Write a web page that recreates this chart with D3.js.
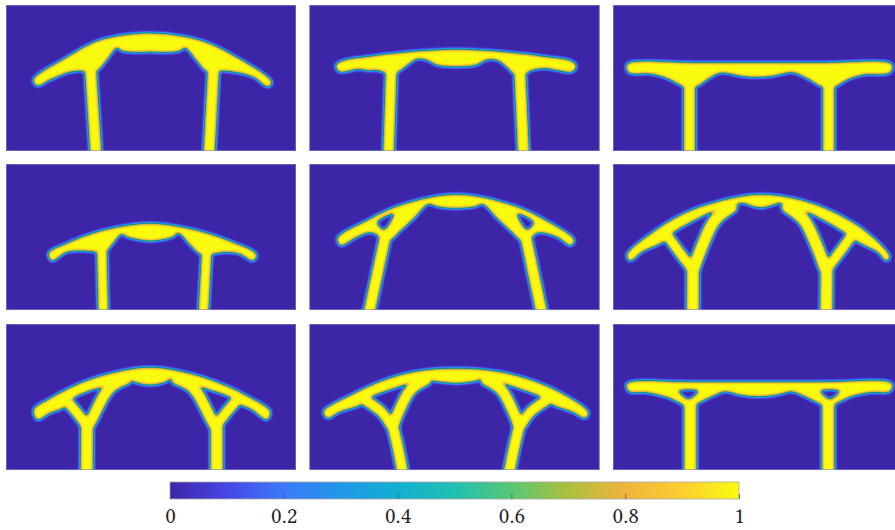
<!DOCTYPE html>
<html>
<head>
<meta charset="utf-8">
<script src="https://cdn.jsdelivr.net/npm/d3@7"></script>
<style>
  body { margin: 0; background: #fff; }
  svg { display: block; }
</style>
</head>
<body>
<div id="chart"></div>
<script>
// design domain of every panel, in mesh elements
const NX = 290, NY = 146;

// parula colour map, evenly spaced stops 0 .. 1
const cmapColors = ["#3E26A8", "#4746E4", "#3D7AFB", "#2296E8", "#12B0D2", "#20BFB2",
                    "#58C874", "#ACBF3E", "#F0B43E", "#FCCE30", "#F9FB0E"];
const tickValues = [0, 0.2, 0.4, 0.6, 0.8, 1];
const tickLabels = ["0", "0.2", "0.4", "0.6", "0.8", "1"];

// each design: deck upper edge, deck lower edge (left to right), members (centre line + width), holes
const top1 = [[27,75],[61,52],[94,35],[144,28],[194,35],[227,50],[266,77]];
const bottom1 = [[31,81],[44,75],[61,68],[72,66],[84,67],[91,66],[101,55],[111,43],[116,46],[130,47.5],[144,47],
                 [158,47.5],[174,46],[179,43],[190,55],[200,66],[208,67],[214,66],[227,67],[247,72],[262,82]];
const members1 = [{pts: [[84,55],[90,150]], w: 12}, {pts: [[208,55],[203,150]], w: 12}];

const top2 = [[26,61],[32,56],[58,51.5],[91,47.5],[147,44.3],[203,47.5],[236,51.5],[262,56],[267,61]];
const bottom2 = [[30,67],[41,65.7],[49,64.3],[58,65.7],[69,65.7],[76,68],[82,70],[89,67],[101,58],[107,54.3],[117,55],
                 [127,60],[147,61.7],[167,60],[177,55],[188,55.5],[198,63],[204,69],[210,71],[216,69],[222,65.5],
                 [236,63.5],[248,65.5],[263,67]];
const members2 = [{pts: [[82,58],[79,150]], w: 11.5}, {pts: [[210,58],[214,150]], w: 12}];

const top3 = [[13,61],[17,57.5],[80,57.5],[146,57.5],[212,57.5],[276,57.5],[280,61]];
const bottom3 = [[16,68],[37,69],[54,73.5],[67,80],[76,84],[85,81],[94,75],[107,68.3],[127,71],[144,72.3],[161,71],
                 [180,67.7],[194,73.5],[207,81],[216,84],[224,81],[234,75],[250,70],[277,68]];
const members3 = [{pts: [[76.5,70],[76.5,150]], w: 12}, {pts: [[215.7,70],[215.7,150]], w: 12}];

const top4 = [[42.3,89.3],[60.7,79.3],[94,67],[144,59.3],[194,67],[227.3,78.3],[250.7,90.3]];
const bottom4 = [[45.7,97],[60.7,88.3],[74,87],[87.3,87.7],[96,89],[102,86],[107.3,79.3],[115.7,70.3],[121,73],
                 [144,77],[167,73],[172.3,69.3],[184,81],[194,90],[201,91],[207.3,90],[220.7,88.3],[234,90.3],[247.3,97]];
const members4 = [{pts: [[95.7,78],[97.3,150]], w: 10.5}, {pts: [[201.3,78],[197.3,150]], w: 10.5}];

const top5 = [[27.7,74.3],[58,56],[91,41],[147,30.3],[203,41],[236,56],[265,76]];
const bottom5 = [[31,81.7],[45,74.5],[58,69],[66,70],[72,76],[80,77],[90,68],[105,54],[119,40.3],[128,42.7],
                 [147,44.3],[166,42.7],[173,40.3],[187,54],[202,68],[212,77],[220,76],[226,70],[234,69],[249,74],
                 [261,81.7]];
const members5 = [{pts: [[59.3,150],[75,76]], w: 12}, {pts: [[232.5,150],[217,76]], w: 12}];
const holes5 = [[[68,58.5],[84,50],[74.5,65.5]], [[224,58.5],[208,50],[217.5,65.5]]];

const top6 = [[13.7,91],[37,70],[70.3,49.5],[103.7,37.7],[147,30.3],[187,35.5],[220.3,47.7],[253.7,67.7],[277,92.7]];
const bottom6 = [[17,97],[30,87.5],[45,81],[55,75],[61,68.3],[75,60],[93.7,50.3],[110,44],[123.7,40.3],[130.3,39.3],
                 [140.3,42.7],[150.3,43.7],[160.3,41],[167,39.3],[183,44],[198.7,50.3],[217,60],[232,69.3],[240,75],
                 [250,81],[263.7,87.7],[273.7,97]];
const members6 = [
  {pts: [[79.7,150],[80,104]], w: 13},
  {pts: [[80,106],[70,93],[56,74]], w: 11},
  {pts: [[81,104],[90,80],[102,56],[118,43]], w: 13},
  {pts: [[213.3,150],[213.7,104]], w: 13},
  {pts: [[213,106],[223,93],[237,74]], w: 11},
  {pts: [[212,104],[203,80],[191,56],[175,43]], w: 13}
];

const top7 = [[27.3,86],[44,74.3],[77.3,57.7],[110.7,47.7],[144,43.3],[177.3,47.7],[210.7,57.7],[244,73.3],[264.7,87.7]];
const bottom7 = [[31.3,96],[44,89.3],[57.3,84],[63,78],[70,72.7],[82,67.5],[95.7,63.3],[110,57],[122.3,54.3],
                 [127.3,57.7],[144,61],[160.7,57.7],[165.7,54.3],[181,57],[195.7,63.3],[210,68],[224,73.3],[231,79],
                 [246,86],[260.7,96]];
const members7 = [
  {pts: [[80.7,150],[81,101]], w: 13},
  {pts: [[81,102],[72,90],[60,76]], w: 11},
  {pts: [[82,102],[86,95],[99,70],[106,62],[120,55]], w: 12},
  {pts: [[210.7,150],[210.7,101]], w: 13},
  {pts: [[210,102],[219,90],[231,76]], w: 11},
  {pts: [[209,102],[205,95],[192,70],[185,62],[171,55]], w: 12}
];

const top8 = [[13.7,87.7],[41,71],[74.3,56],[107.7,47],[147.7,44.3],[191,47.7],[224.3,56.7],[257.7,72],[279.3,88.7]];
const bottom8 = [[17.7,94.3],[31,87.7],[49.3,82],[57,77],[63.7,72],[80,66],[97.7,60],[108,56],[116,54.3],[122.7,56.7],
                 [147.7,59.3],[167.7,56.7],[172.7,54.3],[182,56],[196,60],[213,66],[229.3,72],[237,77],[245,82],
                 [262,87.7],[276,94.3]];
const members8 = [
  {pts: [[93.5,150],[88,122],[83,101]], w: 12},
  {pts: [[82,102],[72,88],[57,77]], w: 11},
  {pts: [[84,101],[90,86],[101,66],[116,56]], w: 12},
  {pts: [[199.3,150],[205,122],[210,101]], w: 12},
  {pts: [[211,102],[221,88],[236,77]], w: 11},
  {pts: [[209,101],[203,86],[192,66],[177,56]], w: 12}
];

const top9 = [[13,61],[17,57.7],[80,57.7],[146,57.7],[212,57.7],[276,57.7],[280,61]];
const bottom9 = [[16,67.7],[33.7,68.7],[53.7,73.3],[67,79.3],[76,84],[85.3,79.3],[100.3,72],[112,67.7],[127,71],
                 [143.7,72.7],[163.7,71],[178.7,67.7],[192,72.7],[207,80],[215.5,84],[223.7,79.3],[240.3,72],
                 [257,68.7],[277,67.7]];
const members9 = [{pts: [[77.3,70],[77.3,150]], w: 13}, {pts: [[215.3,70],[215.3,150]], w: 13}];
const holes9 = [[[66,67],[85,67],[75.5,75]], [[207.7,67],[226.3,67],[217,75]]];

const designs = [
  {top: top1, bottom: bottom1, members: members1, holes: []},
  {top: top2, bottom: bottom2, members: members2, holes: []},
  {top: top3, bottom: bottom3, members: members3, holes: []},
  {top: top4, bottom: bottom4, members: members4, holes: []},
  {top: top5, bottom: bottom5, members: members5, holes: holes5},
  {top: top6, bottom: bottom6, members: members6, holes: []},
  {top: top7, bottom: bottom7, members: members7, holes: []},
  {top: top8, bottom: bottom8, members: members8, holes: []},
  {top: top9, bottom: bottom9, members: members9, holes: holes9}
];

// layout
const width = 895, height = 530;
const colX = [6, 309.5, 613], rowY = [5, 164, 324];
const PW = 290, PH = 146;

const svg = d3.select("#chart").append("svg")
    .attr("width", width)
    .attr("height", height);

const defs = svg.append("defs");

// density filter: blur the 0/1 field, map grey level through the colour map,
// then lay a thin dark contour at the 0.5 level on top
const rgb = cmapColors.map(c => d3.rgb(c));
const filter = defs.append("filter")
    .attr("id", "density")
    .attr("color-interpolation-filters", "sRGB");
filter.append("feGaussianBlur").attr("stdDeviation", 1.45).attr("result", "rho");
const ct = filter.append("feComponentTransfer").attr("in", "rho").attr("result", "map");
ct.append("feFuncR").attr("type", "table").attr("tableValues", rgb.map(c => (c.r / 255).toFixed(4)).join(" "));
ct.append("feFuncG").attr("type", "table").attr("tableValues", rgb.map(c => (c.g / 255).toFixed(4)).join(" "));
ct.append("feFuncB").attr("type", "table").attr("tableValues", rgb.map(c => (c.b / 255).toFixed(4)).join(" "));
filter.append("feColorMatrix").attr("in", "rho").attr("type", "matrix")
    .attr("values", "0 0 0 0 0.08  0 0 0 0 0.40  0 0 0 0 0.38  1 0 0 0 0")
    .attr("result", "edgeSrc");
filter.append("feComponentTransfer").attr("in", "edgeSrc").attr("result", "edge")
  .append("feFuncA").attr("type", "table").attr("tableValues", "0 0 0 0 0.35 0.6 0.35 0 0 0 0");
filter.append("feComposite").attr("in", "edge").attr("in2", "map").attr("operator", "over");

const closedLine = d3.line().curve(d3.curveCatmullRomClosed.alpha(0.5));
const openLine = d3.line().curve(d3.curveCatmullRom.alpha(0.5));

designs.forEach((d, i) => {
    const px = colX[i % 3], py = rowY[Math.floor(i / 3)];
    const x = d3.scaleLinear().domain([0, NX]).range([px, px + PW]);
    const y = d3.scaleLinear().domain([0, NY]).range([py, py + PH]);
    closedLine.x(p => x(p[0])).y(p => y(p[1]));
    openLine.x(p => x(p[0])).y(p => y(p[1]));

    defs.append("clipPath").attr("id", "clip" + i)
      .append("rect")
        .attr("x", x(0)).attr("y", y(0))
        .attr("width", x(NX) - x(0)).attr("height", y(NY) - y(0));

    const g = svg.append("g").attr("clip-path", `url(#clip${i})`);
    const field = g.append("g").attr("filter", "url(#density)");

    field.append("rect")
        .attr("x", x(-10)).attr("y", y(-10))
        .attr("width", x(NX + 10) - x(-10)).attr("height", y(NY + 10) - y(-10))
        .attr("fill", "#000");

    field.append("path")
        .attr("d", closedLine(d.top.concat(d.bottom.slice().reverse())))
        .attr("fill", "#fff");

    d.members.forEach(m => {
        field.append("path")
            .attr("d", openLine(m.pts))
            .attr("fill", "none")
            .attr("stroke", "#fff")
            .attr("stroke-width", x(m.w) - x(0))
            .attr("stroke-linecap", "round")
            .attr("stroke-linejoin", "round");
    });

    d.holes.forEach(h => {
        field.append("path")
            .attr("d", closedLine(h))
            .attr("fill", "#000");
    });

    g.append("rect")
        .attr("x", x(0) + 0.3).attr("y", y(0) + 0.3)
        .attr("width", x(NX) - x(0) - 0.6).attr("height", y(NY) - y(0) - 0.6)
        .attr("fill", "none")
        .attr("stroke", "#8a84cc")
        .attr("stroke-width", 0.6);
});

// colour bar
const barX0 = 170, barX1 = 739, barY = 482, barH = 17;
const cb = d3.scaleLinear().domain([0, 1]).range([barX0, barX1]);

const grad = defs.append("linearGradient").attr("id", "parula")
    .attr("x1", "0%").attr("x2", "100%").attr("y1", "0%").attr("y2", "0%");
cmapColors.forEach((c, i) => {
    grad.append("stop")
        .attr("offset", (i / (cmapColors.length - 1) * 100) + "%")
        .attr("stop-color", c);
});

svg.append("rect")
    .attr("x", cb(0)).attr("y", barY)
    .attr("width", cb(1) - cb(0)).attr("height", barH)
    .attr("fill", "url(#parula)")
    .attr("stroke", "#a8a8a8")
    .attr("stroke-width", 0.8);

const axis = d3.axisBottom(cb)
    .tickValues(tickValues)
    .tickFormat((v, i) => tickLabels[i])
    .tickSizeInner(-5)
    .tickSizeOuter(0)
    .tickPadding(8);

const ax = svg.append("g")
    .attr("transform", `translate(0,${barY + barH})`)
    .call(axis);
ax.select(".domain").remove();
ax.selectAll(".tick line").attr("stroke", "#555").attr("stroke-width", 0.8);
ax.selectAll(".tick text")
    .attr("fill", "#222")
    .attr("font-family", "'Libertinus Serif', 'Liberation Serif', serif")
    .attr("font-size", 23);
</script>
</body>
</html>
